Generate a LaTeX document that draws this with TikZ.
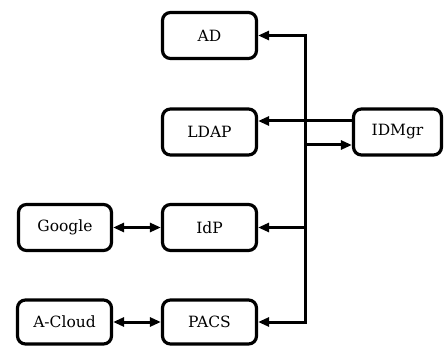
\documentclass[tikz,border=0pt]{standalone}
\usepackage{fontspec}
\setmainfont{DejaVu Serif}
\usetikzlibrary{arrows.meta}
\begin{document}
\begin{tikzpicture}[x=1pt,y=-1pt,
  box/.style={draw,line width=3.2pt,rounded corners=8pt,minimum width=94pt,minimum height=46pt,inner sep=0pt,font=\fontsize{15.5}{18}\selectfont},
  conn/.style={line width=3pt},
  tip/.style={-{Triangle[length=11pt,width=9pt]}},
  dtip/.style={{Triangle[length=11pt,width=9pt]}-{Triangle[length=11pt,width=9pt]}}]
\useasboundingbox (0,0) rectangle (444,347);
\node[box] (AD) at (209.5,35.5) {AD};
\node[box] (LDAP) at (209.5,132) {LDAP};
\node[box,minimum width=88pt] (IDMgr) at (397.5,132) {IDMgr};
\node[box,minimum width=93pt] (Google) at (65,227.5) {Google};
\node[box] (IdP) at (209.5,227.5) {IdP};
\node[box,minimum width=94pt,minimum height=44pt] (ACloud) at (64.5,322) {A-Cloud};
\node[box,minimum height=44pt] (PACS) at (209.5,322) {PACS};
\coordinate (bt) at (305,35.5);
\coordinate (bb) at (305,322);
\coordinate (bi) at (305,227.5);
\draw[conn,line cap=rect] (bb) -- (bt);
\draw[conn,tip] (bt) -- (AD.east);
\draw[conn,tip] (bi) -- (IdP.east);
\draw[conn,tip] (bb) -- (PACS.east);
\coordinate (ls) at ([yshift=11pt]IDMgr.west);
\draw[conn,tip] (ls) -- (LDAP.east |- ls);
\coordinate (ms) at ([yshift=-13pt]IDMgr.west);
\coordinate (bm) at (bt |- ms);
\draw[conn,tip] (bm) -- (ms);
\draw[conn,dtip] (Google) -- (IdP);
\draw[conn,dtip] (ACloud) -- (PACS);
\end{tikzpicture}
\end{document}
